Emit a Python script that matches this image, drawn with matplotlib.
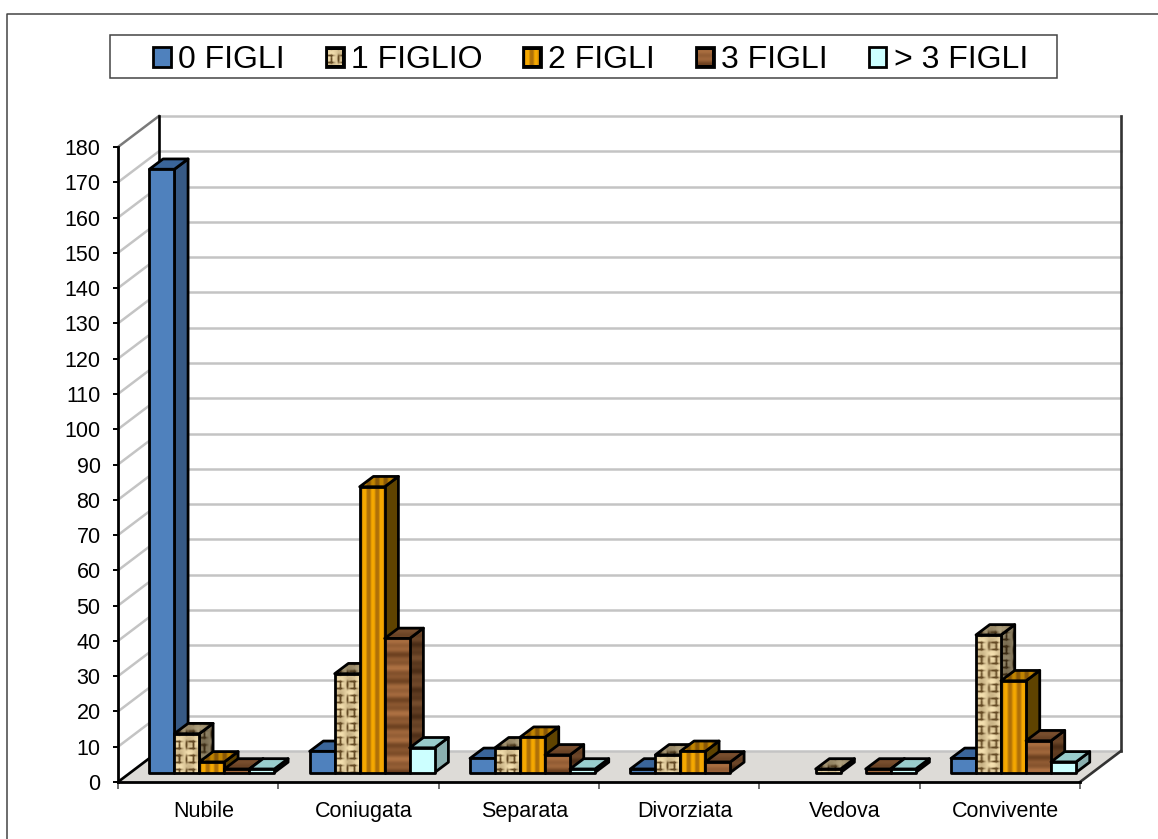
import numpy as np
import matplotlib
matplotlib.use("Agg")
import matplotlib.pyplot as plt
from matplotlib.patches import Polygon, Patch, Rectangle
from matplotlib.lines import Line2D

categories = ["Nubile", "Coniugata", "Separata", "Divorziata", "Vedova", "Convivente"]
series_names = ["0 FIGLI", "1 FIGLIO", "2 FIGLI", "3 FIGLI", "> 3 FIGLI"]
figli_0 = [171, 6, 4, 1, 0, 4]
figli_1 = [11, 28, 7, 5, 1, 39]
figli_2 = [3, 81, 10, 6, 0, 26]
figli_3 = [1, 38, 5, 3, 1, 9]
figli_4 = [1, 7, 1, 0, 1, 3]
series = [figli_0, figli_1, figli_2, figli_3, figli_4]
y_ticks = list(range(0, 190, 10))

plt.rcParams["font.family"] = ["Liberation Sans", "DejaVu Sans"]
W, H = 1158, 839
fig = plt.figure(figsize=(W / 100, H / 100), dpi=100, facecolor="white")
ax = fig.add_axes([118 / W, 1 - 782 / H, (1080 - 118) / W, (782 - 147) / H])
ax.set_xlim(0, 6)
ax.set_ylim(0, 180)
ax.patch.set_visible(False)

PX = 962 / 6
PY = 635 / 180
DX, DY = 41 / PX, 31 / PY          # full depth of the floor
BX, BY = 13.7 / PX, 10.3 / PY      # depth of a bar
OX, OY = 13.7 / PX, 9.5 / PY       # front plane of bars
BW = 25 / PX
GAP = (1 - 5 * BW) / 2


def mix(t, a, b):
    a, b = np.array(a, float) / 255, np.array(b, float) / 255
    return a + (b - a) * np.clip(t, 0, 1)[..., None]


def weave(w, h):
    y, x = np.mgrid[0:h, 0:w].astype(float)
    dash_h = np.maximum(0, np.cos(2 * np.pi * y / 7.0)) ** 2 * (0.5 + 0.5 * np.sin(2 * np.pi * x / 14.0))
    dash_v = np.maximum(0, np.cos(2 * np.pi * (x + 2) / 7.0)) ** 2 * (0.5 - 0.5 * np.sin(2 * np.pi * y / 14.0))
    t = 0.85 - 0.95 * dash_h - 0.95 * dash_v + 0.15 * np.sin(x / 3.1) * np.sin(y / 4.3)
    return mix(t, (100, 74, 36), (246, 226, 178))


def stripes(w, h):
    x = np.mgrid[0:h, 0:w].astype(float)[1]
    t = 0.5 + 0.7 * np.cos(2 * np.pi * (x - 4) / 8.5)
    return mix(t, (175, 112, 8), (245, 168, 0))


def wood(w, h):
    y = np.mgrid[0:h, 0:w].astype(float)[0]
    t = 0.55 + 0.3 * np.sin(2 * np.pi * y / 23.0) + 0.2 * np.sin(2 * np.pi * y / 9.0)
    return mix(t, (105, 62, 30), (172, 112, 66))


fills = [
    {"front": "#4F81BD", "side": "#375A85", "top": "#3A659A"},
    {"front": weave, "side": 0.6, "top": 0.72},
    {"front": stripes, "side": "#5F4300", "top": 0.78},
    {"front": wood, "side": 0.68, "top": 0.72},
    {"front": "#CCFFFF", "side": "#8AAFAF", "top": "#99CCCC"},
]


def face(points, fill, tex, z):
    pts = np.array(points, float)
    poly = Polygon(pts, closed=True, fc=fill if isinstance(fill, str) else "none",
                   ec="black", lw=2.0, joinstyle="round", clip_on=False, zorder=z + 0.1)
    ax.add_patch(poly)
    if not isinstance(fill, str):
        clip = Polygon(pts, closed=True, transform=ax.transData)
        x0, x1 = pts[:, 0].min(), pts[:, 0].max()
        y0, y1 = pts[:, 1].min(), pts[:, 1].max()
        w = max(2, int(round((x1 - x0) * PX)))
        h = max(2, int(round((y1 - y0) * PY)))
        img = tex(w, h) * fill if fill != 1 else tex(w, h)
        im = ax.imshow(img, extent=(x0, x1, y0, y1), aspect="auto", zorder=z,
                       interpolation="bilinear", origin="upper")
        im.set_clip_path(clip)
    ax.set_xlim(0, 6)
    ax.set_ylim(0, 180)


# walls and floor
ax.add_patch(Polygon([(0, 0), (6, 0), (6 + DX, DY), (DX, DY)], closed=True, fc="#DDDBD7",
                     ec="none", clip_on=False, zorder=1))
for v in y_ticks:
    ax.plot([DX, 6 + DX], [v + DY, v + DY], color="#C4C4C4", lw=1.8, clip_on=False, zorder=1.2)
    ax.plot([0, DX], [v, v + DY], color="#7A7A7A" if v == y_ticks[-1] else "#C4C4C4",
            lw=1.8, clip_on=False, zorder=1.2)
ax.plot([DX, DX], [DY, y_ticks[-1] + DY], color="black", lw=1.9, clip_on=False, zorder=1.3)
ax.plot([6 + DX, 6 + DX], [DY, y_ticks[-1] + DY], color="#333333", lw=1.9, clip_on=False, zorder=1.3)
ax.plot([0, DX], [0, DY], color="black", lw=1.9, clip_on=False, zorder=1.3)
ax.plot([6, 6 + DX], [0, DY], color="#333333", lw=1.9, clip_on=False, zorder=1.3)

# bars
z = 3
for c in range(len(categories)):
    for s, values in enumerate(series):
        v = values[c]
        if v == 0:
            continue
        x0 = c + GAP + OX + s * BW
        x1 = x0 + BW
        y0 = OY
        y1 = OY + v
        f = fills[s]
        tex = f["front"] if callable(f["front"]) else None
        face([(x1, y0), (x1 + BX, y0 + BY), (x1 + BX, y1 + BY), (x1, y1)], f["side"], tex, z)
        face([(x0, y1), (x1, y1), (x1 + BX, y1 + BY), (x0 + BX, y1 + BY)], f["top"], tex, z + 1)
        if tex is None:
            face([(x0, y0), (x1, y0), (x1, y1), (x0, y1)], f["front"], None, z + 2)
        else:
            face([(x0, y0), (x1, y0), (x1, y1), (x0, y1)], 1, tex, z + 2)
        z += 3

# axes
for side in ("top", "right"):
    ax.spines[side].set_visible(False)
for side in ("left", "bottom"):
    ax.spines[side].set_linewidth(2.0)
    ax.spines[side].set_zorder(1000)
    ax.spines[side].set_color("black")
ax.set_yticks(y_ticks)
ax.tick_params(axis="y", length=3.6, width=1.4, pad=9, labelsize=15.5, color="black")
ax.set_xticks(range(7))
ax.set_xticklabels([])
ax.tick_params(axis="x", which="major", length=5, width=1.2, color="#555555")
ax.set_xticks([i + 0.5 + 5.5 / PX for i in range(6)], minor=True)
ax.set_xticklabels(categories, minor=True, fontsize=15.5)
ax.tick_params(axis="x", which="minor", length=0, pad=14)

# legend: frame drawn separately so that the wide side padding can be kept
fig.add_artist(Rectangle((110 / W, 1 - 77.5 / H), 947 / W, 43 / H, transform=fig.transFigure,
                         fc="white", ec="#444444", lw=1.1, zorder=5))
handles = []
for s, name in enumerate(series_names):
    fc = fills[s]["front"] if isinstance(fills[s]["front"], str) else "#C8A870"
    handles.append(Patch(facecolor=fc, edgecolor="black", linewidth=2.0, label=name))
leg = fig.legend(handles=handles, ncol=5, loc="center",
                 bbox_to_anchor=(590.5 / W, 1 - 60.5 / H),
                 fontsize=23, frameon=False,
                 handlelength=0.56, handleheight=0.56, handletextpad=0.22,
                 columnspacing=1.285, borderpad=0, borderaxespad=0,
                 labelspacing=0)
leg.set_zorder(6)

fig.canvas.draw()
for s, h in enumerate(leg.legend_handles):
    if callable(fills[s]["front"]):
        bb = h.get_window_extent()
        n = int(round(bb.width))
        m = int(round(bb.height))
        arr = fills[s]["front"](n, m).copy()
        arr[:2, :] = 0
        arr[-2:, :] = 0
        arr[:, :2] = 0
        arr[:, -2:] = 0
        fig.figimage(arr, xo=int(round(bb.x0)), yo=int(round(bb.y0)), origin="upper", zorder=20)

# outer border: top and left edges only
fig.add_artist(Line2D([7.5 / W, 7.5 / W, 1], [0, 1 - 13.5 / H, 1 - 13.5 / H], transform=fig.transFigure,
                      color="#444444", lw=1.1))

fig.savefig("out.png", dpi=100, facecolor="white")
